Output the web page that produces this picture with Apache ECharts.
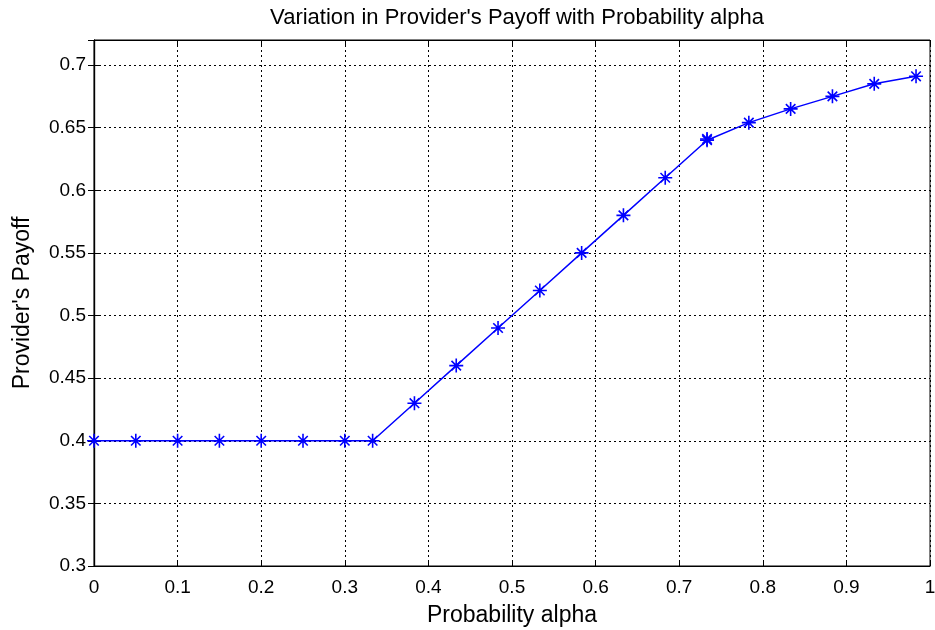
<!DOCTYPE html>
<html><head><meta charset="utf-8">
<script src="https://cdn.jsdelivr.net/npm/echarts@6/dist/echarts.min.js"></script>
<style>html,body{margin:0;padding:0;background:#fff}#c{width:935px;height:630px}</style>
</head><body><div id="c"></div>
<script>
const alphaValues = [0, 0.05, 0.1, 0.15, 0.2, 0.25, 0.3, 0.3333, 0.3833, 0.4333, 0.4833, 0.5333, 0.5833, 0.6333, 0.6833, 0.7333, 0.7333, 0.7833, 0.8333, 0.8833, 0.9333, 0.9833];
const payoffValues = [0.4, 0.4, 0.4, 0.4, 0.4, 0.4, 0.4, 0.4, 0.43, 0.46, 0.49, 0.52, 0.55, 0.58, 0.61, 0.64, 0.641, 0.654, 0.665, 0.675, 0.685, 0.691];
const xTicks = [0, 0.1, 0.2, 0.3, 0.4, 0.5, 0.6, 0.7, 0.8, 0.9, 1];
const yTicks = [0.3, 0.35, 0.4, 0.45, 0.5, 0.55, 0.6, 0.65, 0.7];

const data = alphaValues.map((a, i) => [a, payoffValues[i]]);
const font = 'Liberation Sans, Arial, sans-serif';
const chart = echarts.init(document.getElementById('c'));
const star = 'path://M5,0L5,10M0,5L10,5M1.6,1.6L8.4,8.4M8.4,1.6L1.6,8.4';
chart.setOption({
  animation: false,
  title: {text: "Variation in Provider's Payoff with Probability alpha", left: 512, top: 2, textAlign: 'center',
    textStyle: {fontFamily: font, fontSize: 22, fontWeight: 'normal', color: '#000'}},
  grid: {left: 94, right: 5, top: 40, bottom: 64, show: true, borderColor: '#000', borderWidth: 1,
    outerBoundsMode: 'none', containLabel: false},
  xAxis: [{
    type: 'value', min: 0, max: 1, interval: 0.1,
    name: 'Probability alpha', nameLocation: 'middle', nameGap: 38,
    nameTextStyle: {fontFamily: font, fontSize: 23, color: '#000'},
    axisLine: {show: true, lineStyle: {color: '#000', width: 1.2}},
    axisTick: {inside: true, length: 6, lineStyle: {color: '#000'}},
    axisLabel: {fontFamily: font, fontSize: 19, color: '#000', margin: 12,
      formatter: v => xTicks.some(t => Math.abs(t - v) < 1e-6) ? String(+v.toFixed(2)) : ''},
    splitLine: {show: true, lineStyle: {color: '#000', type: [2, 3], width: 1}}
  }, {
    type: 'value', min: 0, max: 1, interval: 0.1, position: 'top',
    axisLine: {show: true, lineStyle: {color: '#000', width: 1.2}},
    axisTick: {inside: true, length: 6, lineStyle: {color: '#000'}},
    axisLabel: {show: false}, splitLine: {show: false}
  }],
  yAxis: [{
    type: 'value', min: 0.3, max: 0.72, interval: 0.05,
    name: "Provider's Payoff", nameLocation: 'middle', nameGap: 60, nameRotate: 90,
    nameTextStyle: {fontFamily: font, fontSize: 23, color: '#000'},
    axisLine: {show: true, lineStyle: {color: '#000', width: 1.2}},
    axisTick: {inside: true, length: 6, lineStyle: {color: '#000'}},
    axisLabel: {fontFamily: font, fontSize: 19, color: '#000', margin: 8,
      formatter: v => yTicks.some(t => Math.abs(t - v) < 1e-6) ? String(+v.toFixed(2)) : ''},
    splitLine: {show: true, lineStyle: {color: '#000', type: [2, 3], width: 1}}
  }, {
    type: 'value', min: 0.3, max: 0.72, interval: 0.05, position: 'right',
    axisLine: {show: true, lineStyle: {color: '#000', width: 1.2}},
    axisTick: {inside: true, length: 6, lineStyle: {color: '#000'}},
    axisLabel: {show: false}, splitLine: {show: false}
  }],
  series: [{
    type: 'line', data: data, xAxisIndex: 0, yAxisIndex: 0,
    symbol: star, symbolSize: 14, showAllSymbol: true,
    lineStyle: {color: '#0000ff', width: 1.5},
    itemStyle: {color: 'rgba(0,0,0,0)', borderColor: '#0000ff', borderWidth: 1.6}
  }]
});
</script></body></html>
